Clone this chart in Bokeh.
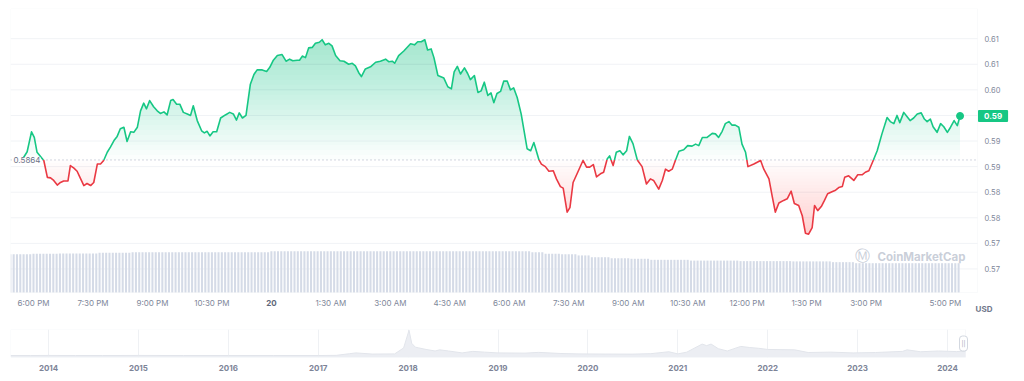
import numpy as np
from bokeh.plotting import figure
from bokeh.models import Range1d, FixedTicker, Label, BoxAnnotation
from bokeh.layouts import column
from bokeh.embed import file_html
from bokeh.resources import INLINE
from bokeh.core.properties import value

# ---------------- data ----------------
# time in hours counted from 00:00 on the 19th (24 = midnight "20")
time_h = [17.67, 17.84, 17.95, 18.02, 18.09, 18.26, 18.35, 18.43, 18.51, 18.60,
          18.68, 18.76, 18.87, 18.93, 19.02, 19.10, 19.19, 19.27, 19.35, 19.44,
          19.52, 19.61, 19.69, 19.77, 19.86, 19.94, 20.03, 20.11, 20.19, 20.28,
          20.36, 20.45, 20.53, 20.62, 20.70, 20.78, 20.85, 20.93, 21.03, 21.12,
          21.20, 21.29, 21.37, 21.46, 21.52, 21.61, 21.69, 21.78, 21.88, 21.96,
          22.03, 22.13, 22.24, 22.31, 22.38, 22.45, 22.53, 22.62, 22.72, 22.84,
          22.95, 23.04, 23.12, 23.19, 23.27, 23.36, 23.47, 23.56, 23.64, 23.77,
          23.88, 23.96, 24.05, 24.15, 24.27, 24.37, 24.46, 24.54, 24.65, 24.71,
          24.78, 24.86, 24.94, 25.03, 25.11, 25.21, 25.28, 25.36, 25.45, 25.53,
          25.62, 25.73, 25.83, 25.95, 26.04, 26.12, 26.20, 26.27, 26.37, 26.50,
          26.63, 26.75, 26.88, 26.96, 27.05, 27.11, 27.21, 27.34, 27.51, 27.61,
          27.69, 27.78, 27.87, 27.94, 28.03, 28.10, 28.20, 28.35, 28.45, 28.54,
          28.61, 28.69, 28.77, 28.87, 28.95, 29.02, 29.12, 29.21, 29.29, 29.37,
          29.46, 29.54, 29.61, 29.69, 29.78, 29.86, 29.95, 30.03, 30.11, 30.20,
          30.30, 30.38, 30.45, 30.54, 30.62, 30.75, 30.81, 30.91, 31.00, 31.11,
          31.19, 31.29, 31.36, 31.46, 31.53, 31.61, 31.71, 31.86, 31.95, 32.03,
          32.12, 32.20, 32.30, 32.38, 32.47, 32.53, 32.62, 32.70, 32.79, 32.87,
          32.96, 33.03, 33.12, 33.23, 33.35, 33.46, 33.56, 33.64, 33.77, 33.86,
          33.94, 34.02, 34.11, 34.19, 34.28, 34.40, 34.50, 34.61, 34.70, 34.78,
          34.87, 34.99, 35.12, 35.20, 35.28, 35.37, 35.45, 35.54, 35.62, 35.70,
          35.79, 35.87, 35.96, 36.02, 36.17, 36.34, 36.42, 36.55, 36.63, 36.71,
          36.80, 36.92, 37.01, 37.11, 37.19, 37.30, 37.39, 37.47, 37.55, 37.64,
          37.70, 37.78, 37.87, 37.95, 38.03, 38.14, 38.23, 38.31, 38.40, 38.46,
          38.56, 38.69, 38.79, 38.90, 38.98, 39.07, 39.18, 39.28, 39.40, 39.53,
          39.61, 39.70, 39.78, 39.85, 39.95, 40.03, 40.11, 40.20, 40.29, 40.39,
          40.47, 40.54, 40.62, 40.69, 40.79, 40.88, 40.96, 41.05, 41.13, 41.22,
          41.30, 41.37]

price = [0.5859, 0.5880, 0.5919, 0.5908, 0.5879, 0.5863, 0.5830, 0.5829, 0.5824, 0.5815,
         0.5820, 0.5823, 0.5823, 0.5853, 0.5848, 0.5842, 0.5827, 0.5814, 0.5818, 0.5814,
         0.5820, 0.5856, 0.5856, 0.5863, 0.5879, 0.5889, 0.5902, 0.5910, 0.5925, 0.5928,
         0.5900, 0.5919, 0.5918, 0.5928, 0.5960, 0.5975, 0.5964, 0.5980, 0.5968, 0.5960,
         0.5955, 0.5958, 0.5952, 0.5980, 0.5982, 0.5973, 0.5973, 0.5957, 0.5954, 0.5951,
         0.5970, 0.5941, 0.5921, 0.5917, 0.5920, 0.5911, 0.5919, 0.5919, 0.5946, 0.5952,
         0.5957, 0.5954, 0.5942, 0.5956, 0.5946, 0.5951, 0.6012, 0.6031, 0.6040, 0.6040,
         0.6037, 0.6045, 0.6059, 0.6068, 0.6070, 0.6057, 0.6061, 0.6058, 0.6059, 0.6059,
         0.6067, 0.6064, 0.6083, 0.6084, 0.6092, 0.6094, 0.6099, 0.6089, 0.6092, 0.6087,
         0.6068, 0.6058, 0.6057, 0.6051, 0.6053, 0.6048, 0.6035, 0.6027, 0.6042, 0.6046,
         0.6055, 0.6057, 0.6061, 0.6056, 0.6057, 0.6053, 0.6068, 0.6077, 0.6091, 0.6089,
         0.6095, 0.6095, 0.6099, 0.6079, 0.6081, 0.6064, 0.6029, 0.6024, 0.6007, 0.6003,
         0.6036, 0.6047, 0.6032, 0.6044, 0.6033, 0.6021, 0.6029, 0.5996, 0.5999, 0.6016,
         0.5990, 0.5995, 0.5976, 0.5994, 0.5998, 0.6018, 0.6018, 0.6001, 0.6005, 0.5986,
         0.5954, 0.5918, 0.5886, 0.5882, 0.5898, 0.5864, 0.5856, 0.5851, 0.5842, 0.5843,
         0.5827, 0.5812, 0.5809, 0.5762, 0.5771, 0.5820, 0.5837, 0.5863, 0.5850, 0.5850,
         0.5855, 0.5831, 0.5837, 0.5840, 0.5866, 0.5872, 0.5853, 0.5879, 0.5882, 0.5874,
         0.5882, 0.5910, 0.5896, 0.5864, 0.5851, 0.5817, 0.5827, 0.5824, 0.5807, 0.5824,
         0.5846, 0.5842, 0.5846, 0.5863, 0.5881, 0.5884, 0.5892, 0.5891, 0.5895, 0.5892,
         0.5908, 0.5908, 0.5916, 0.5915, 0.5908, 0.5920, 0.5935, 0.5939, 0.5932, 0.5932,
         0.5928, 0.5895, 0.5879, 0.5851, 0.5856, 0.5863, 0.5846, 0.5827, 0.5794, 0.5762,
         0.5780, 0.5785, 0.5788, 0.5803, 0.5779, 0.5775, 0.5755, 0.5721, 0.5719, 0.5732,
         0.5775, 0.5765, 0.5773, 0.5785, 0.5798, 0.5802, 0.5805, 0.5810, 0.5812, 0.5830,
         0.5833, 0.5824, 0.5835, 0.5835, 0.5840, 0.5843, 0.5863, 0.5882, 0.5915, 0.5947,
         0.5939, 0.5935, 0.5951, 0.5937, 0.5957, 0.5949, 0.5941, 0.5946, 0.5954, 0.5956,
         0.5944, 0.5939, 0.5944, 0.5929, 0.5918, 0.5935, 0.5929, 0.5918, 0.5928, 0.5941,
         0.5931, 0.5950]

base_price = 0.5864
base_label = "0.5864"
last_label = "0.59"
currency = "USD"

# 24h volume (billions USD), 5-minute bars, given as runs of equal height
vol_start_h = 17 + 25 / 60
vol_step_h = 5 / 60
vol_levels = [1.47, 1.49, 1.50, 1.53, 1.55, 1.59, 1.55, 1.49, 1.47, 1.43,
              1.36, 1.32, 1.30, 1.26, 1.23, 1.21, 1.20, 1.17, 1.13]
vol_counts = [7, 8, 12, 10, 42, 79, 4, 5, 5, 4,
              6, 6, 6, 12, 15, 16, 12, 7, 32]

x_tick_h = [18, 19.5, 21, 22.5, 24, 25.5, 27, 28.5, 30, 31.5, 33, 34.5, 36, 37.5, 39, 41]
x_tick_labels = ["6:00 PM", "7:30 PM", "9:00 PM", "10:30 PM", "20", "1:30 AM", "3:00 AM",
                 "4:30 AM", "6:00 AM", "7:30 AM", "9:00 AM", "10:30 AM", "12:00 PM",
                 "1:30 PM", "3:00 PM", "5:00 PM"]
x_tick_bold = [False, False, False, False, True, False, False, False, False, False,
               False, False, False, False, False, False]
y_tick_values = [0.5651, 0.5701, 0.5751, 0.5801, 0.5851, 0.5901, 0.5951, 0.6001, 0.6051, 0.6101]
y_tick_labels = ["0.57", "0.57", "0.58", "0.58", "0.59", "0.59", "0.59", "0.60", "0.61", "0.61"]

# all-time navigator (decimal year, price USD)
nav_year = [2013.58, 2013.8, 2014.0, 2014.3, 2014.6, 2015.0, 2015.5, 2016.0, 2016.5, 2017.0,
            2017.2, 2017.35, 2017.42, 2017.6, 2017.85, 2017.95, 2018.01, 2018.04, 2018.08, 2018.12,
            2018.2, 2018.3, 2018.35, 2018.45, 2018.6, 2018.72, 2018.85, 2019.0, 2019.3, 2019.45,
            2019.7, 2019.9, 2020.2, 2020.5, 2020.7, 2020.9, 2021.0, 2021.1, 2021.27, 2021.32,
            2021.37, 2021.45, 2021.55, 2021.7, 2021.8, 2021.9, 2022.0, 2022.3, 2022.45, 2022.7,
            2022.95, 2023.2, 2023.5, 2023.55, 2023.7, 2023.9, 2024.1, 2024.2]
nav_price = [0.005, 0.01, 0.02, 0.006, 0.008, 0.02, 0.008, 0.006, 0.007, 0.007,
             0.03, 0.25, 0.35, 0.2, 0.22, 1.0, 3.3, 1.6, 1.1, 1.0,
             0.8, 0.6, 0.75, 0.6, 0.35, 0.55, 0.45, 0.35, 0.32, 0.42,
             0.27, 0.22, 0.2, 0.19, 0.25, 0.5, 0.22, 0.45, 1.5, 1.3,
             1.5, 0.9, 0.6, 1.2, 1.05, 0.95, 0.8, 0.75, 0.4, 0.45,
             0.35, 0.4, 0.55, 0.75, 0.5, 0.6, 0.52, 0.59]
nav_years = [2014, 2015, 2016, 2017, 2018, 2019, 2020, 2021, 2022, 2023, 2024]

assert len(time_h) == len(price)
assert sum(vol_counts) == 288

# ---------------- styling ----------------
GREEN = "#16c784"
RED = "#ea3943"
FONT = value("Inter")
TXT = "#80879a"

t = np.array(time_h, dtype=float)
pr = np.array(price, dtype=float)

# insert crossing points so that the line switches colour exactly at the baseline
xs, ys = [], []
for i in range(len(t)):
    if i > 0:
        y0, y1 = pr[i - 1], pr[i]
        if (y0 - base_price) * (y1 - base_price) < 0:
            f = (base_price - y0) / (y1 - y0)
            xs.append(t[i - 1] + f * (t[i] - t[i - 1]))
            ys.append(base_price)
    xs.append(t[i])
    ys.append(pr[i])
xs = np.array(xs)
ys = np.array(ys)
g_line = np.where(ys >= base_price, ys, np.nan)
r_line = np.where(ys <= base_price, ys, np.nan)

vol_vals = np.repeat(vol_levels, vol_counts)
vol_x = vol_start_h + np.arange(len(vol_vals)) * vol_step_h

# chart area (plot box) and full drawing frame, in pixels
CW, CH = 967, 284          # price chart box
FW, FH = 1006, 310         # whole frame incl. label areas
X0, X1 = 17.42, 41.81
Y0, Y1 = 0.5605, 0.6160
PXH = CW / (X1 - X0)
PYV = CH / (Y1 - Y0)
XE = X0 + FW / PXH
YB = Y1 - FH / PYV

def hx(px):   # absolute page x -> data x
    return X0 + (px - 10) / PXH

def vy(py):   # absolute page y -> data y
    return Y1 - (py - 8) / PYV

p = figure(frame_width=FW, frame_height=FH,
           x_range=Range1d(X0, XE), y_range=Range1d(YB, Y1),
           output_backend="svg", toolbar_location=None,
           min_border_left=10, min_border_right=0, min_border_top=8, min_border_bottom=0)
p.title.visible = False
p.xaxis.visible = False
p.yaxis.visible = False
p.xgrid.visible = False
p.ygrid.visible = False
p.outline_line_color = None
p.background_fill_color = "white"
p.border_fill_color = "white"

# horizontal grid lines inside the chart box
p.segment(x0=X0, x1=X1, y0=y_tick_values, y1=y_tick_values, line_color="#f1f3f6",
          line_width=1)

vol_px = 10.95 / CH
p.extra_y_ranges = {"vol": Range1d(-(FH - CH) * vol_px, 10.95)}
p.vbar(x=vol_x, top=vol_vals, width=vol_step_h * 0.62, bottom=0, y_range_name="vol",
       fill_color="#d5dbe7", line_color=None)

# gradient fills (stacked translucent layers)
N = 24
gmax = pr.max()
rmin = pr.min()
ag = 1 - (1 - 0.30) ** (1 / N)
ar = 1 - (1 - 0.24) ** (1 / N)
for k in range(N):
    lv = base_price + (gmax - base_price) * k / N
    p.varea(x=xs, y1=np.full_like(ys, lv), y2=np.maximum(ys, lv),
            fill_color=GREEN, fill_alpha=ag)
    lr = base_price - (base_price - rmin) * k / N
    p.varea(x=xs, y1=np.minimum(ys, lr), y2=np.full_like(ys, lr),
            fill_color=RED, fill_alpha=ar)

p.segment(x0=X0, x1=X1, y0=base_price, y1=base_price, line_color="#a6adbf",
          line_dash="1 3", line_width=1)

p.line(xs, g_line, line_color=GREEN, line_width=1.6, line_join="round")
p.line(xs, r_line, line_color=RED, line_width=1.6, line_join="round")
p.scatter([time_h[-1]], [price[-1]], size=7, fill_color=GREEN, line_color=GREEN)

# chart box outline
p.add_layout(BoxAnnotation(left=X0, right=X1, bottom=Y0, top=Y1, fill_alpha=0,
                           line_color="#eceff3", line_width=1))

# tick labels
norm_x = [h for h, b in zip(x_tick_h, x_tick_bold) if not b]
norm_l = [l for l, b in zip(x_tick_labels, x_tick_bold) if not b]
bold_x = [h for h, b in zip(x_tick_h, x_tick_bold) if b]
bold_l = [l for l, b in zip(x_tick_labels, x_tick_bold) if b]
p.text(x=norm_x, y=vy(302.5), text=norm_l, text_font=FONT, text_font_size="8px",
       text_color=TXT, text_align="center", text_baseline="middle")
p.text(x=bold_x, y=vy(302.5), text=bold_l, text_font=FONT, text_font_size="8px",
       text_font_style="bold", text_color="#5f677a", text_align="center",
       text_baseline="middle")
p.text(x=hx(984), y=y_tick_values, text=y_tick_labels, text_font=FONT,
       text_font_size="7.5px", text_color=TXT, text_align="left", text_baseline="middle")
p.text(x=hx(983.5), y=vy(308.5), text=[currency], text_font=FONT, text_font_size="8px",
       text_font_style="bold", text_color="#6f778a", text_align="center",
       text_baseline="middle")

# baseline label, current price badge, watermark
p.add_layout(Label(x=hx(13), y=base_price, text=base_label, text_font="Inter",
                   text_font_size="8px", text_color="#6b7388", text_align="left",
                   text_baseline="middle", background_fill_color="white",
                   background_fill_alpha=0.85))
p.add_layout(Label(x=hx(977.5), y=price[-1], text=last_label, text_font="Inter",
                   text_font_size="8px", text_font_style="bold", text_color="white",
                   text_align="left", text_baseline="middle", background_fill_color=GREEN,
                   padding=dict(x=6, y=3), border_radius=1))
p.add_layout(Label(x=hx(862), y=vy(255.5), text="Ⓜ", text_font="DejaVu Sans",
                   text_font_size="15px", text_color="#c3c9d4", text_align="center",
                   text_baseline="middle", text_alpha=0.9))
p.add_layout(Label(x=hx(877), y=vy(256), text="CoinMarketCap", text_font="Inter",
                   text_font_size="11.5px", text_font_style="bold", text_color="#c3c9d4",
                   text_align="left", text_baseline="middle", text_alpha=0.9))

# ---------------- navigator ----------------
NCW, NFW, NFH = 955, 1006, 28
NX0, NX1 = 2013.577, 2024.2
NY0, NY1 = -0.25, 3.4
NPX = NCW / (NX1 - NX0)
NXE = NX0 + NFW / NPX
n = figure(frame_width=NFW, frame_height=NFH,
           x_range=Range1d(NX0, NXE), y_range=Range1d(NY0, NY1),
           output_backend="svg", toolbar_location=None,
           min_border_left=10, min_border_right=0, min_border_top=11, min_border_bottom=16)
n.title.visible = False
n.outline_line_color = None
n.yaxis.visible = False
n.ygrid.visible = False
n.varea(x=nav_year, y1=[NY0] * len(nav_year), y2=nav_price, fill_color="#eceef3")
n.line(nav_year, nav_price, line_color="#e2e5eb", line_width=1)
n.add_layout(BoxAnnotation(left=NX0, right=NX1, bottom=NY0, top=NY1, fill_alpha=0,
                           line_color="#e6e9ee", line_width=1))
n.xaxis.ticker = FixedTicker(ticks=nav_years)
n.xaxis.major_label_overrides = {y: str(y) for y in nav_years}
n.xaxis.axis_line_color = None
n.xaxis.major_tick_line_color = None
n.xaxis.minor_tick_line_color = None
n.xaxis.major_tick_out = 0
n.xaxis.major_tick_in = 0
n.xaxis.minor_tick_out = 0
n.xaxis.minor_tick_in = 0
n.xaxis.major_label_text_font = "Inter"
n.xaxis.major_label_text_font_size = "8px"
n.xaxis.major_label_text_font_style = "bold"
n.xaxis.major_label_text_color = "#7d8497"
n.xaxis.major_label_standoff = 7
n.xgrid.grid_line_color = "#eff1f4"
n.add_layout(Label(x=NX1 - 2 / NPX, y=(NY0 + NY1) / 2, text="||", text_font="Inter",
                   text_font_size="6px", text_color="#9aa1b2",
                   text_align="center", text_baseline="middle", background_fill_color="white",
                   border_line_color="#d3d8e0", padding=dict(x=2, y=4), border_radius=3))

layout = column(p, n, spacing=0)
open("out.html", "w").write(file_html(layout, INLINE))
